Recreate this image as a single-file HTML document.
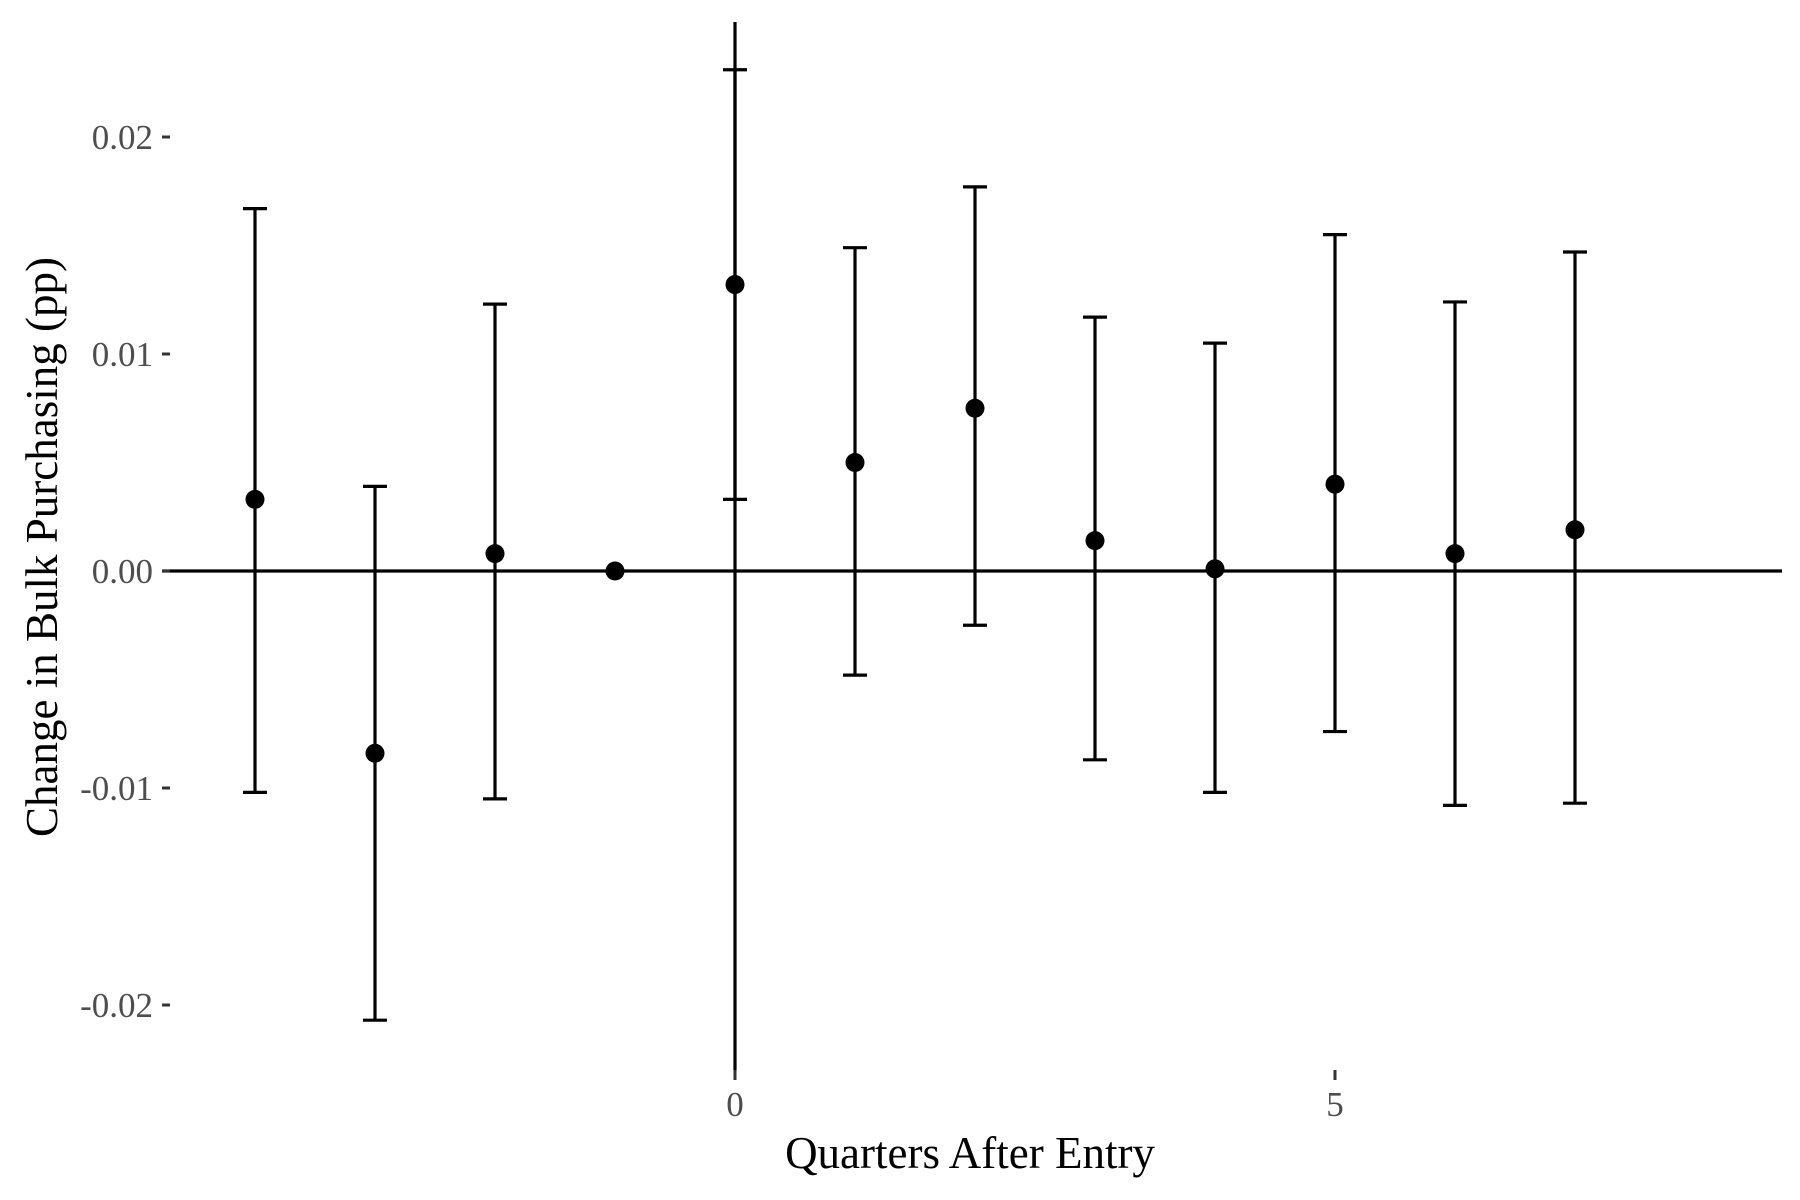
<!DOCTYPE html>
<html><head><meta charset="utf-8"><style>body{margin:0;background:#fff}svg{display:block}</style></head>
<body>
<svg id="chart" width="1800" height="1200" xmlns="http://www.w3.org/2000/svg" font-family="Liberation Serif, serif"></svg>
<script>
const quarters=[-4,-3,-2,-1,0,1,2,3,4,5,6,7];
const estimates=[0.0033,-0.0084,0.0008,0,0.0132,0.0050,0.0075,0.0014,0.0001,0.0040,0.0008,0.0019];
const upper=[0.0167,0.0039,0.0123,null,0.0231,0.0149,0.0177,0.0117,0.0105,0.0155,0.0124,0.0147];
const lower=[-0.0102,-0.0207,-0.0105,null,0.0033,-0.0048,-0.0025,-0.0087,-0.0102,-0.0074,-0.0108,-0.0107];
const yTicks=[-0.02,-0.01,0,0.01,0.02];
const yTickLabels=["-0.02","-0.01","0.00","0.01","0.02"];
const xTicks=[0,5];
const NS="http://www.w3.org/2000/svg";
const svg=document.getElementById('chart');
const X=v=>735+v*120;
const Y=v=>571-v*21700;
function mk(t,a,p){const e=document.createElementNS(NS,t);for(const k in a)e.setAttribute(k,a[k]);(p||svg).appendChild(e);return e;}
let h=mk('line',{x1:162,x2:1782,y1:Y(0),y2:Y(0),stroke:'#000','stroke-width':3.2});


let v=mk('line',{x1:X(0),x2:X(0),y1:22,y2:1070,stroke:'#000','stroke-width':3.2});


yTicks.forEach((t,i)=>{
 const tk=mk('line',{x1:162,x2:170,y1:Y(t),y2:Y(t),stroke:'#333','stroke-width':3});
 
 
 const l=mk('text',{x:153,y:Y(t)+12,'text-anchor':'end','font-size':35,fill:'#4d4d4d'});
 l.textContent=yTickLabels[i];
 
 
});
xTicks.forEach(t=>{
 const tk=mk('line',{x1:X(t),x2:X(t),y1:1070,y2:1080,stroke:'#333','stroke-width':3});
 
 
 const l=mk('text',{x:X(t),y:1116,'text-anchor':'middle','font-size':35,fill:'#4d4d4d'});
 l.textContent=String(t);
 
 
});
quarters.forEach((q,i)=>{
 const g=mk('g',{});
 
 
 if(upper[i]!==null){
  mk('line',{x1:X(q),x2:X(q),y1:Y(upper[i]),y2:Y(lower[i]),stroke:'#000','stroke-width':3.2},g);
  mk('line',{x1:X(q)-12,x2:X(q)+12,y1:Y(upper[i]),y2:Y(upper[i]),stroke:'#000','stroke-width':3.2},g);
  mk('line',{x1:X(q)-12,x2:X(q)+12,y1:Y(lower[i]),y2:Y(lower[i]),stroke:'#000','stroke-width':3.2},g);
 }
 mk('circle',{cx:X(q),cy:Y(estimates[i]),r:9.5,fill:'#000'},g);
});
let xt=mk('text',{x:970,y:1168,'text-anchor':'middle','font-size':45,fill:'#000'});
xt.textContent='Quarters After Entry';


let yt=mk('text',{x:0,y:0,'text-anchor':'middle','font-size':45,fill:'#000',transform:'translate(57,547) rotate(-90)'});
yt.textContent='Change in Bulk Purchasing (pp)';


</script>
</body></html>
